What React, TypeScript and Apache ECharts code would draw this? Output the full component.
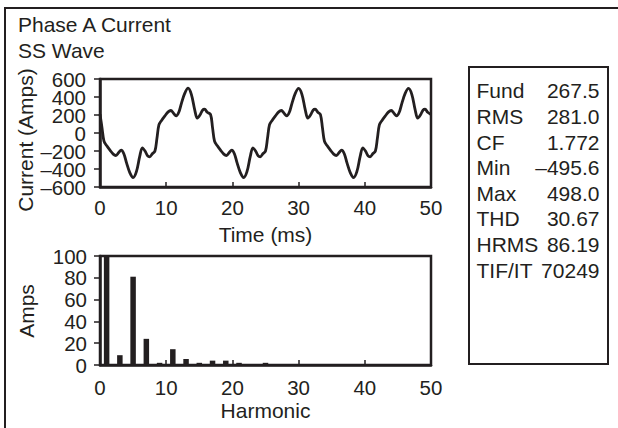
import React, { useEffect, useRef } from 'react';
import * as echarts from 'echarts';

// ---- data ----
const titleLines = ['Phase A Current', 'SS Wave'];

const timeMs = [
  0, 0.3, 0.6, 1.0, 1.5, 2.0, 2.4, 2.8, 3.2, 3.6, 4.0, 4.5, 5.0, 5.5, 6.0, 6.4, 6.8, 7.2, 7.5, 7.9,
  8.3, 8.6, 8.9, 9.3, 9.8, 10.3, 10.7, 11.1, 11.5, 11.9, 12.3, 12.8, 13.3, 13.8, 14.3, 14.7, 15.1, 15.5, 15.8, 16.2,
  16.7, 17.0, 17.3, 17.7, 18.2, 18.7, 19.1, 19.5, 19.9, 20.3, 20.7, 21.2, 21.7, 22.2, 22.7, 23.1, 23.5, 23.9, 24.2, 24.6,
  25.0, 25.3, 25.6, 26.0, 26.5, 27.0, 27.4, 27.8, 28.2, 28.6, 29.0, 29.5, 30.0, 30.5, 31.0, 31.4, 31.8, 32.2, 32.5, 32.9,
  33.3, 33.6, 33.9, 34.3, 34.8, 35.3, 35.7, 36.1, 36.5, 36.9, 37.3, 37.8, 38.3, 38.8, 39.3, 39.7, 40.1, 40.5, 40.8, 41.2,
  41.6, 41.9, 42.2, 42.6, 43.1, 43.6, 44.0, 44.4, 44.8, 45.2, 45.6, 46.1, 46.6, 47.1, 47.6, 48.0, 48.4, 48.8, 49.1, 49.5,
  50.0,
];

const currentAmps = [
  210, 60, -90, -140, -190, -235, -250, -220, -190, -230, -330, -440, -495, -430, -260, -165, -200, -255, -265, -230,
  -200, -60, 90, 140, 190, 235, 250, 220, 190, 230, 330, 440, 498, 430, 260, 165, 200, 255, 265, 230,
  205, 60, -90, -140, -190, -235, -250, -220, -190, -230, -330, -440, -495, -430, -260, -165, -200, -255, -265, -230,
  -200, -60, 90, 140, 190, 235, 250, 220, 190, 230, 330, 440, 495, 430, 260, 165, 200, 255, 265, 230,
  205, 60, -90, -140, -190, -235, -250, -220, -190, -230, -330, -440, -495, -430, -260, -165, -200, -255, -265, -230,
  -200, -60, 90, 140, 190, 235, 250, 220, 190, 230, 330, 440, 495, 430, 260, 165, 200, 255, 265, 230,
  205,
];

const harmonicOrder = [1, 3, 5, 7, 9, 11, 13, 15, 17, 19, 21, 25];
const harmonicAmps = [267.5, 9, 81, 24, 2, 14.5, 5.5, 2, 4, 4, 2, 2];

const statNames = ['Fund', 'RMS', 'CF', 'Min', 'Max', 'THD', 'HRMS', 'TIF/IT'];
const statValues = ['267.5', '281.0', '1.772', '–495.6', '498.0', '30.67', '86.19', '70249'];

const timeAxisRange = [0, 50, 10];
const currentAxisRange = [-600, 600, 200];
// the current tick labels are set in two interleaved rows so that none is hidden
const currentLabelRangeOuter = [-600, 600, 400]; // –600, –200, 200, 600
const currentLabelRangeInner = [-400, 400, 400]; // –400, 0, 400
const harmonicAxisRange = [0, 50, 10];
const ampsAxisRange = [0, 100, 20];

const ink = '#231f20';
const font = "'Liberation Sans', Arial, Helvetica, sans-serif";
const fmt = (v: number) => (v < 0 ? '–' + Math.abs(v) : String(v));

function textEl(text: string, x: number, y: number, align: string, extra: any = {}) {
  return {
    type: 'text',
    x,
    y,
    silent: true,
    ...extra,
    style: {
      text,
      fill: ink,
      fontSize: 21,
      fontFamily: font,
      textAlign: align,
      textVerticalAlign: 'middle',
      align,
      verticalAlign: 'middle',
    },
  };
}

export default function App() {
  const ref = useRef<HTMLDivElement>(null);

  useEffect(() => {
    if (!ref.current) return;
    const chart = echarts.init(ref.current, null, { renderer: 'svg' });

    const wave = timeMs.map((t, i) => [t, currentAmps[i]]);
    const bars = harmonicOrder.map((h, i) => [h, harmonicAmps[i]]);

    const axisLine = { show: true, onZero: false, lineStyle: { color: ink, width: 2.5 } };
    const label = (margin: number, extra: any = {}) => ({
      fontSize: 20.5,
      color: ink,
      fontFamily: font,
      margin,
      showMinLabel: true,
      showMaxLabel: true,
      hideOverlap: false,
      ...extra,
    });

    const graphics: any[] = [
      {
        type: 'rect',
        silent: true,
        shape: { x: 5, y: 8, width: 700, height: 500 },
        style: { fill: 'none', stroke: ink, lineWidth: 2 },
      },
      {
        type: 'rect',
        silent: true,
        shape: { x: 469, y: 67, width: 139, height: 297 },
        style: { fill: 'none', stroke: ink, lineWidth: 2 },
      },
      textEl(titleLines[0], 18, 24, 'left'),
      textEl(titleLines[1], 18, 50, 'left'),
      textEl('Current (Amps)', 25, 140, 'center', { rotation: Math.PI / 2 }),
      textEl('Amps', 26, 311, 'center', { rotation: Math.PI / 2 }),
    ];
    statNames.forEach((n, i) => {
      const y = 90.7 + i * 25.65;
      graphics.push(textEl(n, 476.5, y, 'left'));
      graphics.push(textEl(statValues[i], 599.5, y, 'right'));
    });

    const hiddenAxis = {
      show: true,
      position: 'left',
      offset: 0,
      axisLine: { show: false, onZero: false },
      axisTick: { show: false },
      splitLine: { show: false },
    };

    chart.setOption({
      animation: false,
      textStyle: { fontFamily: font, color: ink },
      grid: [
        { left: 100, top: 79, width: 331, height: 108, show: true, borderColor: ink, borderWidth: 2.5, backgroundColor: 'transparent' },
        { left: 100, top: 256, width: 331, height: 109, show: true, borderColor: ink, borderWidth: 2.5, backgroundColor: 'transparent' },
        // same scale as grid 0, spanning –400 … 400 (97 … 169 px)
        { left: 100, top: 97, width: 331, height: 72, show: false },
      ],
      xAxis: [
        {
          type: 'value',
          gridIndex: 0,
          min: timeAxisRange[0],
          max: timeAxisRange[1],
          interval: timeAxisRange[2],
          axisLine,
          axisTick: { show: true, inside: true, length: 5, lineStyle: { color: ink, width: 1.5 } },
          axisLabel: label(10),
          splitLine: { show: false },
          name: 'Time (ms)',
          nameLocation: 'middle',
          nameGap: 37,
          nameTextStyle: { fontSize: 21, color: ink, fontFamily: font, verticalAlign: 'top' },
        },
        {
          type: 'value',
          gridIndex: 1,
          min: harmonicAxisRange[0],
          max: harmonicAxisRange[1],
          interval: harmonicAxisRange[2],
          axisLine,
          axisTick: { show: true, inside: true, length: 5, lineStyle: { color: ink, width: 1.5 } },
          axisLabel: label(12),
          splitLine: { show: false },
          name: 'Harmonic',
          nameLocation: 'middle',
          nameGap: 35,
          nameTextStyle: { fontSize: 21, color: ink, fontFamily: font, verticalAlign: 'top' },
        },
        {
          type: 'value',
          gridIndex: 2,
          min: timeAxisRange[0],
          max: timeAxisRange[1],
          show: false,
        },
      ],
      yAxis: [
        {
          type: 'value',
          gridIndex: 0,
          position: 'left',
          min: currentAxisRange[0],
          max: currentAxisRange[1],
          interval: currentAxisRange[2],
          axisLine,
          axisTick: { show: true, inside: false, length: 6, lineStyle: { color: ink, width: 1.5 } },
          axisLabel: { show: false },
          splitLine: { show: false },
        },
        {
          type: 'value',
          gridIndex: 1,
          position: 'left',
          min: ampsAxisRange[0],
          max: ampsAxisRange[1],
          interval: ampsAxisRange[2],
          axisLine,
          axisTick: { show: true, inside: false, length: 6, lineStyle: { color: ink, width: 1.5 } },
          axisLabel: label(13, { formatter: fmt }),
          splitLine: { show: false },
        },
        {
          type: 'value',
          gridIndex: 0,
          min: currentLabelRangeOuter[0],
          max: currentLabelRangeOuter[1],
          interval: currentLabelRangeOuter[2],
          ...hiddenAxis,
          axisLabel: label(14, { formatter: fmt }),
        },
        {
          type: 'value',
          gridIndex: 2,
          min: currentLabelRangeInner[0],
          max: currentLabelRangeInner[1],
          interval: currentLabelRangeInner[2],
          ...hiddenAxis,
          axisLabel: label(14, { formatter: fmt }),
        },
      ],
      series: [
        {
          type: 'line',
          xAxisIndex: 0,
          yAxisIndex: 0,
          data: wave,
          showSymbol: false,
          smooth: 0.35,
          clip: true,
          lineStyle: { color: ink, width: 2.8 },
        },
        {
          type: 'bar',
          xAxisIndex: 1,
          yAxisIndex: 1,
          data: bars,
          barWidth: 5.5,
          clip: true,
          itemStyle: { color: ink },
        },
      ],
      graphic: graphics,
    });

    return () => chart.dispose();
  }, []);

  return (
    <div
      ref={ref}
      style={{ position: 'absolute', left: 0, top: 0, width: 618, height: 428, background: '#fff' }}
    />
  );
}
